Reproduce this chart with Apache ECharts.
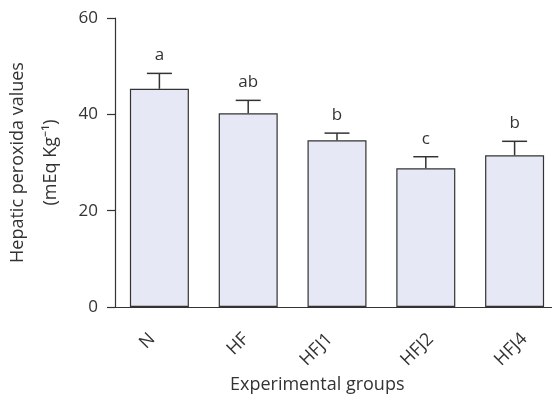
<!DOCTYPE html>
<html>
<head>
<meta charset="utf-8">
<style>
  html, body { margin: 0; padding: 0; background: #fff; }
  #chart { width: 552px; height: 397px; }
</style>
<script src="https://cdn.jsdelivr.net/npm/echarts@6/dist/echarts.min.js"></script>
</head>
<body>
<div id="chart"></div>
<script>
// Hepatic peroxide values per experimental group (mean + SEM)
const categories = ['N', 'HF', 'HFJ1', 'HFJ2', 'HFJ4'];
const means = [45.3, 40.2, 34.6, 28.8, 31.5];
const errors = [3.2, 2.7, 1.5, 2.4, 2.9];
const letters = ['a', 'ab', 'b', 'c', 'b'];
const yTicks = [0, 20, 40, 60];

const FONT = '"Open Sans", sans-serif';
const INK = '#333';

// hand placement of the slanted group labels: [line height, right padding]
const labelNudge = [[4.2, 12.4], [11.4, 8.8], [4.2, 12.4], [21.2, 3.9], [28.2, 0.3]];

const chart = echarts.init(document.getElementById('chart'));

const errData = categories.map((c, i) => [i, means[i], means[i] + errors[i]]);

const xData = categories.map((c, i) => ({
  value: c,
  textStyle: {
    verticalAlign: 'top',
    lineHeight: labelNudge[i][0],
    padding: [0, labelNudge[i][1], 0, 0]
  }
}));

chart.setOption({
  animation: false,
  textStyle: { fontFamily: FONT },
  grid: {
    left: 115, top: 18, bottom: 90, right: -7,
    containLabel: false,
    outerBoundsMode: 'none'
  },
  title: {
    text: 'Experimental groups',
    left: 230,
    top: 376,
    padding: 0,
    textStyle: { fontFamily: FONT, fontSize: 18, fontWeight: 'normal', color: INK }
  },
  xAxis: {
    type: 'category',
    data: xData,
    axisLine: { lineStyle: { color: INK, width: 1.2 } },
    axisTick: { alignWithLabel: true, length: 8, lineStyle: { color: INK, width: 1.2 } },
    axisLabel: {
      rotate: 45, margin: 19,
      fontSize: 18, color: INK, fontFamily: FONT
    }
  },
  yAxis: {
    type: 'value',
    min: yTicks[0],
    max: yTicks[yTicks.length - 1],
    interval: 20,
    splitLine: { show: false },
    axisLine: { show: true, lineStyle: { color: INK, width: 1.2 } },
    axisTick: { show: true, length: 8, lineStyle: { color: INK, width: 1.2 } },
    axisLabel: { margin: 17, fontSize: 17, color: INK, fontFamily: FONT },
    name: 'Hepatic peroxida values\n(mEq Kg\u207B\u00B9)',
    nameLocation: 'middle',
    nameGap: 43,
    nameRotate: 90,
    nameTextStyle: {
      color: INK,
      fontFamily: FONT,
      fontSize: 18,
      lineHeight: 33
    }
  },
  series: [
    {
      type: 'bar',
      data: means,
      barWidth: 59,
      itemStyle: { color: '#e7e8f5', borderColor: INK, borderWidth: 1.2 },
      z: 2
    },
    {
      type: 'custom',
      data: errData,
      z: 3,
      renderItem: function (params, api) {
        const x = api.value(0);
        const base = api.coord([x, api.value(1)]);
        const top = api.coord([x, api.value(2)]);
        const half = 12.5;
        const style = { stroke: INK, lineWidth: 1.5 };
        return {
          type: 'group',
          children: [
            { type: 'line', shape: { x1: base[0], y1: base[1], x2: top[0], y2: top[1] }, style },
            { type: 'line', shape: { x1: top[0] - half, y1: top[1], x2: top[0] + half, y2: top[1] }, style },
            {
              type: 'text',
              style: {
                text: letters[params.dataIndex],
                x: top[0],
                y: top[1] - 18,
                align: 'center',
                verticalAlign: 'middle',
                fontSize: 17,
                fontFamily: FONT,
                fill: INK
              }
            }
          ]
        };
      }
    }
  ]
});
</script>
</body>
</html>
